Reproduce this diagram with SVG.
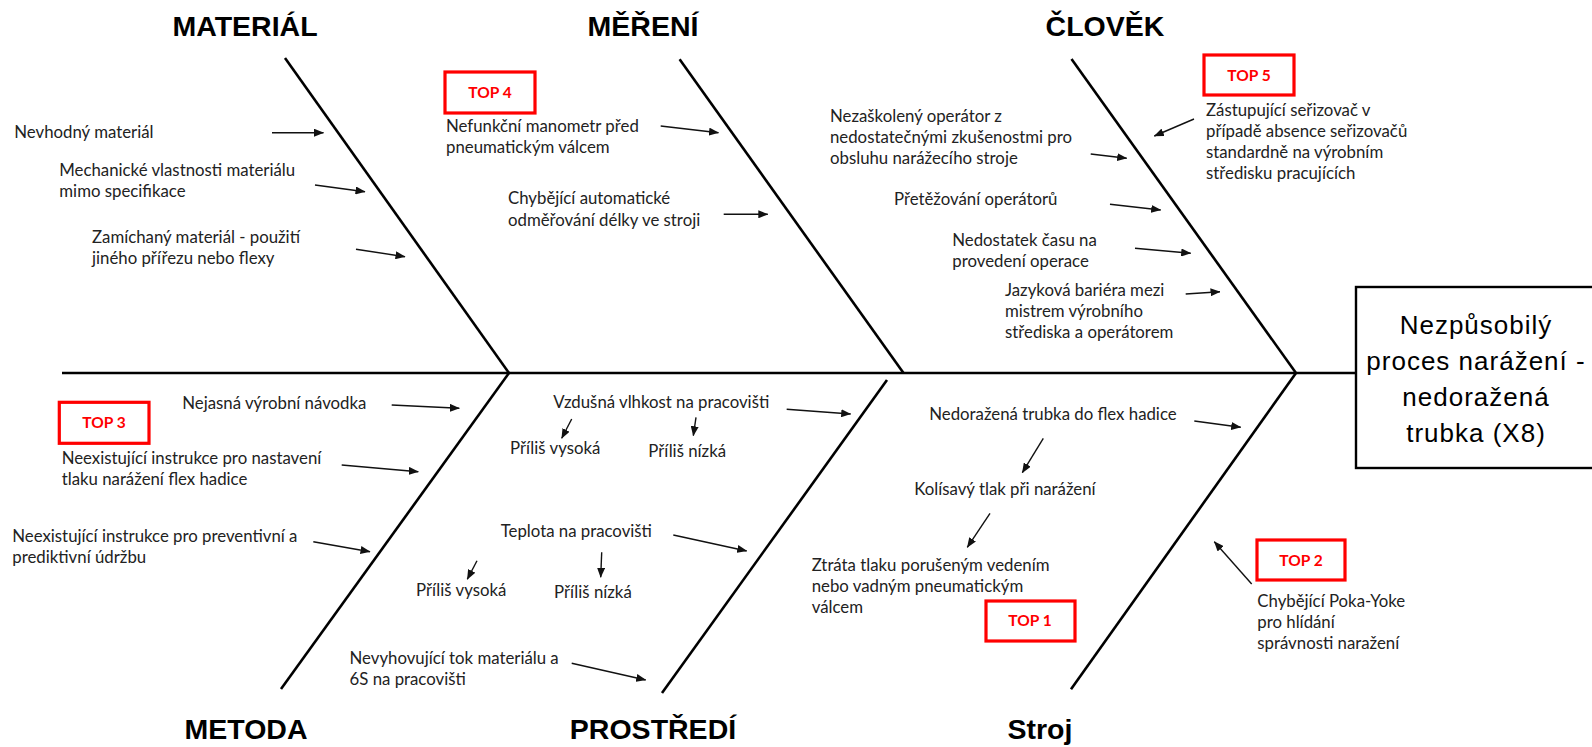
<svg xmlns="http://www.w3.org/2000/svg" width="1592" height="747" viewBox="0 0 1592 747">
  <defs>
    <marker id="arrowhead" markerUnits="userSpaceOnUse" markerWidth="10" markerHeight="8" refX="9.5" refY="4" orient="auto">
      <path d="M0,0 L10,4 L0,8 z" fill="#111"/>
    </marker>
    <style>
      .bone { stroke: #000; stroke-width: 2.6; fill: none; stroke-linecap: butt; }
      .arrow { stroke: #111; stroke-width: 1.4; fill: none; marker-end: url(#arrowhead); }
      .title { font-family: "Liberation Sans", Arial, sans-serif; font-weight: bold; font-size: 28.5px; fill: #000; text-anchor: middle; }
      .cause { font-family: Lato, "Liberation Sans", sans-serif; font-size: 16.8px; fill: #222; }
      .top { fill: #fff; stroke: #ff0000; stroke-width: 3.2; }
      .toptext { font-family: Lato, "Liberation Sans", sans-serif; font-weight: bold; font-size: 15.5px; fill: #ff0000; text-anchor: middle; }
      .effect { fill: #fff; stroke: #000; stroke-width: 2.4; }
      .effecttext { font-family: "Liberation Sans", Arial, sans-serif; font-size: 26px; letter-spacing: 1px; fill: #000; text-anchor: middle; }
    </style>
  </defs>

  <rect width="1592" height="747" fill="#fff"/>

  <!-- Fish skeleton: spine and the six category bones -->
  <g id="skeleton">
    <line class="bone" x1="62" y1="373" x2="1357" y2="373"/>
    <line class="bone" x1="285" y1="58" x2="509" y2="373"/>
    <line class="bone" x1="509" y1="373" x2="281" y2="689"/>
    <line class="bone" x1="679.6" y1="59.3" x2="903.5" y2="373"/>
    <line class="bone" x1="887" y1="380" x2="662" y2="693"/>
    <line class="bone" x1="1071.5" y1="59" x2="1296" y2="373"/>
    <line class="bone" x1="1296" y1="373" x2="1071" y2="689.3"/>
  </g>

  <!-- Effect (fish head) -->
  <g id="effect">
    <rect class="effect" x="1356" y="287" width="242" height="181"/>
    <text class="effecttext" x="1476" y="334">Nezpůsobilý</text>
    <text class="effecttext" x="1476" y="370">proces narážení -</text>
    <text class="effecttext" x="1476" y="406">nedoražená</text>
    <text class="effecttext" x="1476" y="442">trubka (X8)</text>
  </g>

  <!-- Category titles -->
  <g id="cat-material"><text class="title" x="245" y="36">MATERIÁL</text></g>
  <g id="cat-mereni"><text class="title" x="643" y="36">MĚŘENÍ</text></g>
  <g id="cat-clovek"><text class="title" x="1105" y="36">ČLOVĚK</text></g>
  <g id="cat-metoda"><text class="title" x="246" y="739">METODA</text></g>
  <g id="cat-prostredi"><text class="title" x="653" y="738.5">PROSTŘEDÍ</text></g>
  <g id="cat-stroj"><text class="title" x="1040" y="739">Stroj</text></g>

  <!-- MATERIÁL causes -->
  <g id="c-nevhodny"><text class="cause" x="14.3" y="137.5">Nevhodný materiál</text></g>
  <g id="c-mechanicke"><text class="cause" x="59.3" y="175.7">Mechanické vlastnosti materiálu</text><text class="cause" x="59.3" y="196.5">mimo specifikace</text></g>
  <g id="c-zamichany"><text class="cause" x="92" y="243">Zamíchaný materiál - použití</text><text class="cause" x="92" y="263.7">jiného přířezu nebo flexy</text></g>

  <!-- MĚŘENÍ causes -->
  <g id="top4"><rect class="top" x="445" y="72" width="90" height="41"/><text class="toptext" x="490" y="97.5">TOP 4</text></g>
  <g id="c-manometr"><text class="cause" x="446" y="131.7">Nefunkční manometr před</text><text class="cause" x="446" y="153">pneumatickým válcem</text></g>
  <g id="c-odmerovani"><text class="cause" x="508" y="204">Chybějící automatické</text><text class="cause" x="508" y="225.5">odměřování délky ve stroji</text></g>

  <!-- ČLOVĚK causes -->
  <g id="top5"><rect class="top" x="1204" y="55" width="90" height="40"/><text class="toptext" x="1249" y="81">TOP 5</text></g>
  <g id="c-zastupujici">
    <text class="cause" x="1206" y="115.5">Zástupující seřizovač v</text>
    <text class="cause" x="1206" y="136.5">případě absence seřizovačů</text>
    <text class="cause" x="1206" y="157.5">standardně na výrobním</text>
    <text class="cause" x="1206" y="178.5">středisku pracujících</text>
  </g>
  <g id="c-nezaskoleny">
    <text class="cause" x="830" y="121.7">Nezaškolený operátor z</text>
    <text class="cause" x="830" y="143">nedostatečnými zkušenostmi pro</text>
    <text class="cause" x="830" y="164.3">obsluhu narážecího stroje</text>
  </g>
  <g id="c-pretezovani"><text class="cause" x="894" y="205">Přetěžování operátorů</text></g>
  <g id="c-nedostatek"><text class="cause" x="952.3" y="245.7">Nedostatek času na</text><text class="cause" x="952.3" y="266.7">provedení operace</text></g>
  <g id="c-jazykova">
    <text class="cause" x="1005" y="295.5">Jazyková bariéra mezi</text>
    <text class="cause" x="1005" y="316.7">mistrem výrobního</text>
    <text class="cause" x="1005" y="337.7">střediska a operátorem</text>
  </g>

  <!-- METODA causes -->
  <g id="top3"><rect class="top" x="59.3" y="402.3" width="89.7" height="41"/><text class="toptext" x="104" y="428.3">TOP 3</text></g>
  <g id="c-nejasna"><text class="cause" x="182.3" y="409.3">Nejasná výrobní návodka</text></g>
  <g id="c-instrukce-tlak"><text class="cause" x="61.7" y="464.3">Neexistující instrukce pro nastavení</text><text class="cause" x="61.7" y="485">tlaku narážení flex hadice</text></g>
  <g id="c-instrukce-udrzba"><text class="cause" x="12.3" y="541.7">Neexistující instrukce pro preventivní a</text><text class="cause" x="12.3" y="562.7">prediktivní údržbu</text></g>

  <!-- PROSTŘEDÍ causes -->
  <g id="c-vlhkost"><text class="cause" x="553.3" y="408.3">Vzdušná vlhkost na pracovišti</text></g>
  <g id="c-vlhkost-vysoka"><text class="cause" x="510" y="454">Příliš vysoká</text></g>
  <g id="c-vlhkost-nizka"><text class="cause" x="648.3" y="456.7">Příliš nízká</text></g>
  <g id="c-teplota"><text class="cause" x="500.7" y="536.7">Teplota na pracovišti</text></g>
  <g id="c-teplota-vysoka"><text class="cause" x="416" y="596">Příliš vysoká</text></g>
  <g id="c-teplota-nizka"><text class="cause" x="554" y="597.7">Příliš nízká</text></g>
  <g id="c-tok"><text class="cause" x="349.5" y="664.3">Nevyhovující tok materiálu a</text><text class="cause" x="349.5" y="685">6S na pracovišti</text></g>

  <!-- Stroj causes -->
  <g id="c-nedorazena"><text class="cause" x="929.3" y="420">Nedoražená trubka do flex hadice</text></g>
  <g id="c-kolisavy"><text class="cause" x="914.3" y="495">Kolísavý tlak při narážení</text></g>
  <g id="c-ztrata">
    <text class="cause" x="811.7" y="571">Ztráta tlaku porušeným vedením</text>
    <text class="cause" x="811.7" y="592">nebo vadným pneumatickým</text>
    <text class="cause" x="811.7" y="613">válcem</text>
  </g>
  <g id="top1"><rect class="top" x="986" y="601" width="89" height="40"/><text class="toptext" x="1030" y="625.5">TOP 1</text></g>
  <g id="top2"><rect class="top" x="1257" y="540" width="88" height="40"/><text class="toptext" x="1301" y="566">TOP 2</text></g>
  <g id="c-pokayoke">
    <text class="cause" x="1257.3" y="607.3">Chybějící Poka-Yoke</text>
    <text class="cause" x="1257.3" y="628.3">pro hlídání</text>
    <text class="cause" x="1257.3" y="649.3">správnosti naražení</text>
  </g>

  <!-- Cause arrows -->
  <g id="connectors">
    <line class="arrow" x1="272" y1="132.7" x2="323.5" y2="132.7"/>
    <line class="arrow" x1="315" y1="185" x2="365" y2="191.7"/>
    <line class="arrow" x1="356" y1="249.3" x2="405" y2="256.7"/>

    <line class="arrow" x1="660.7" y1="126" x2="718.5" y2="132.7"/>
    <line class="arrow" x1="723.7" y1="214.3" x2="767.8" y2="214.3"/>

    <line class="arrow" x1="1090.7" y1="154" x2="1126.7" y2="158.3"/>
    <line class="arrow" x1="1194" y1="119" x2="1154.3" y2="136"/>
    <line class="arrow" x1="1110" y1="204.3" x2="1160.7" y2="210"/>
    <line class="arrow" x1="1135" y1="248.3" x2="1190.7" y2="253.3"/>
    <line class="arrow" x1="1185.7" y1="294" x2="1220" y2="291.7"/>

    <line class="arrow" x1="391.7" y1="405" x2="459.3" y2="408.3"/>
    <line class="arrow" x1="341.7" y1="465" x2="418.3" y2="471.7"/>
    <line class="arrow" x1="313.3" y1="541.7" x2="370" y2="551.7"/>

    <line class="arrow" x1="786.7" y1="409.3" x2="850.7" y2="414"/>
    <line class="arrow" x1="571.7" y1="419" x2="561.7" y2="438.3"/>
    <line class="arrow" x1="696" y1="417.3" x2="693.3" y2="435.7"/>
    <line class="arrow" x1="673.3" y1="535" x2="746.7" y2="551"/>
    <line class="arrow" x1="601.7" y1="552.3" x2="600.7" y2="577.3"/>
    <line class="arrow" x1="477" y1="560.7" x2="467.3" y2="579.3"/>
    <line class="arrow" x1="571.7" y1="663.3" x2="645.7" y2="680"/>

    <line class="arrow" x1="1194.3" y1="421" x2="1240.7" y2="427.3"/>
    <line class="arrow" x1="1043.3" y1="438.3" x2="1022.3" y2="472.7"/>
    <line class="arrow" x1="990" y1="513.3" x2="967.3" y2="547.3"/>
    <line class="arrow" x1="1251.7" y1="584" x2="1214.3" y2="541.7"/>
  </g>
</svg>
